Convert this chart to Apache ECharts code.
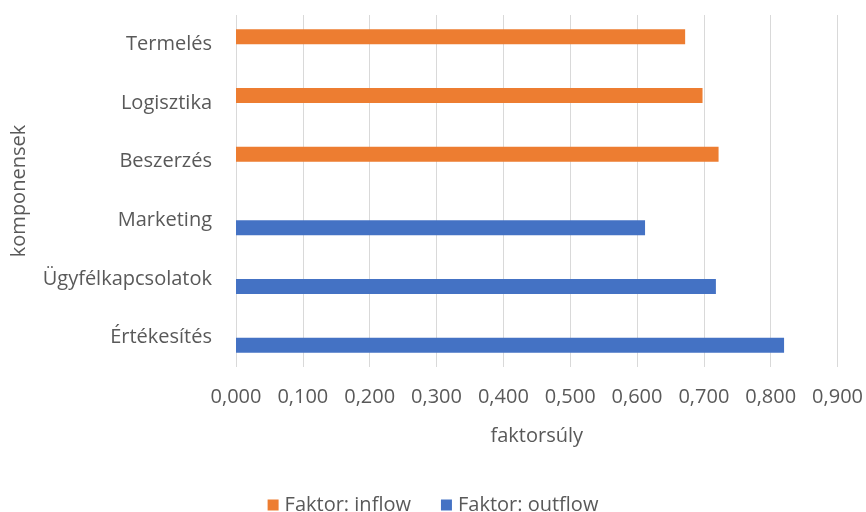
<!DOCTYPE html>
<html lang="hu">
<head>
    <meta charset="UTF-8" />
    <title>faktorsúly</title>
    <script src="https://cdn.jsdelivr.net/npm/echarts@6/dist/echarts.min.js"></script>
</head>
<style>
    * {
        margin: 0;
        padding: 0;
    }

    #main {
        width: 866px;
        height: 512px;
        background: #fff;
    }
</style>

<body>
    <div id="main"></div>
</body>
<script>
    // kategóriák alulról felfelé
    const categories = ["Értékesítés", "Ügyfélkapcsolatok", "Marketing", "Beszerzés", "Logisztika", "Termelés"];
    const inflow = [null, null, null, 0.722, 0.698, 0.672];
    const outflow = [0.820, 0.718, 0.612, null, null, null];
    const xTicks = [0, 0.1, 0.2, 0.3, 0.4, 0.5, 0.6, 0.7, 0.8, 0.9];

    var myChart = echarts.init(document.getElementById("main"));
    var fontFamily = "Open Sans";
    var gray = "#595959";
    var option = {
        textStyle: { fontFamily: fontFamily },
        grid: { left: 236, right: 25, top: 15, bottom: 145 },
        legend: {
            data: ["Faktor: inflow", "Faktor: outflow"],
            top: 490,
            left: "center",
            icon: "rect",
            itemWidth: 11,
            itemHeight: 11,
            itemGap: 30,
            textStyle: { fontSize: 20, color: gray, fontFamily: fontFamily, padding: [0, 0, 0, 1] },
        },
        xAxis: {
            type: "value",
            min: xTicks[0],
            max: xTicks[xTicks.length - 1],
            interval: 0.1,
            name: "faktorsúly",
            nameLocation: "middle",
            nameGap: 59,
            nameTextStyle: { fontSize: 20, color: gray },
            axisLine: { show: false },
            axisTick: { show: false },
            axisLabel: {
                fontSize: 20,
                color: gray,
                margin: 20,
                formatter: function (v) {
                    return v.toFixed(3).replace(".", ",");
                },
            },
            splitLine: { show: true, lineStyle: { color: "#d9d9d9", width: 1 } },
        },
        yAxis: {
            type: "category",
            data: categories,
            name: "komponensek",
            nameLocation: "middle",
            nameGap: 207,
            nameRotate: 90,
            nameTextStyle: { fontSize: 20, color: gray },
            axisLine: { show: false },
            axisTick: { show: false },
            axisLabel: { fontSize: 20, color: gray, margin: 24 },
        },
        series: [
            {
                name: "Faktor: inflow",
                type: "bar",
                data: inflow,
                barWidth: 15,
                barGap: "0%",
                itemStyle: { color: "#ed7d31" },
            },
            {
                name: "Faktor: outflow",
                type: "bar",
                data: outflow,
                barWidth: 15,
                barGap: "0%",
                itemStyle: { color: "#4472c4" },
            },
        ],
    };
    option && myChart.setOption(option);
</script>

</html>
